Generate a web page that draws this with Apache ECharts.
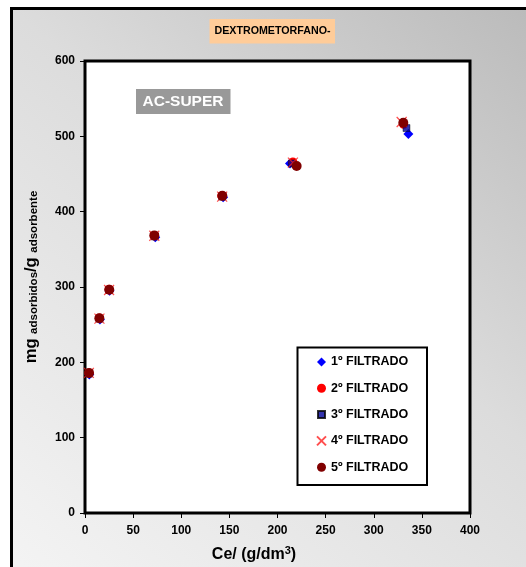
<!DOCTYPE html>
<html>
<head>
<meta charset="utf-8">
<script src="https://cdn.jsdelivr.net/npm/echarts@6/dist/echarts.min.js"></script>
<style>
  html, body { margin: 0; padding: 0; background: #fff; }
  #chart { width: 526px; height: 567px; }
</style>
</head>
<body>
<div id="chart"></div>
<script>
// Adsorption isotherm: dextromethorphan on AC-SUPER, five successive filtrates
const seriesNames = ['1º FILTRADO', '2º FILTRADO', '3º FILTRADO', '4º FILTRADO', '5º FILTRADO'];

// [Ce (g/dm3), mg adsorbed / g adsorbent]
const filtrado1 = [[4.5, 184], [15.5, 257], [25.5, 295], [73, 366], [143.5, 419], [213, 464], [336, 503]];
const filtrado2 = [[4, 186], [15, 259], [25, 297], [72, 368], [142, 421], [216, 466], [331, 516]];
const filtrado3 = [[4, 185], [15, 258], [25, 296], [72.5, 367], [142.5, 420], [215, 464], [334, 511]];
const filtrado4 = [[4, 186], [15, 258], [25, 296], [72, 368], [142.5, 420], [216, 465], [329, 519]];
const filtrado5 = [[4.2, 186], [14.9, 258.5], [25.2, 296.4], [72, 368.5], [142.7, 421], [219.9, 460.6], [330.7, 518]];

const xMin = 0, xMax = 400, xStep = 50;
const yMin = 0, yMax = 600, yStep = 100;

const titleText = 'DEXTROMETORFANO-';
const sampleText = 'AC-SUPER';

const FONT = 'Arial, "Liberation Sans", Helvetica, sans-serif';
const crossPath = 'path://M0,0L10,10M10,0L0,10';
// small square for the legend, padded by bare move-to points
const smallSquare = 'path://M-1,-1M0,0h7v7h-7zM8,8';

const chart = echarts.init(document.getElementById('chart'), null, { renderer: 'canvas' });

const bgGradient = new echarts.graphic.LinearGradient(530, 0, 40, 580, [
  { offset: 0, color: '#bababa' },
  { offset: 0.45, color: '#dcdcdc' },
  { offset: 1, color: '#f3f3f3' }
], true);

function scatter(name, data, symbol, size, color, extra) {
  return Object.assign({
    name: name,
    type: 'scatter',
    data: data,
    symbol: symbol,
    symbolSize: size,
    itemStyle: { color: color, opacity: 1 },
    emphasis: { disabled: true },
    animation: false
  }, extra || {});
}

const option = {
  animation: false,
  textStyle: { fontFamily: FONT },
  grid: {
    left: 85, top: 61, right: 56, bottom: 54,
    show: true,
    backgroundColor: '#ffffff',
    borderColor: '#000000',
    borderWidth: 3,
    z: 1
  },
  xAxis: {
    type: 'value',
    min: xMin, max: xMax, interval: xStep,
    axisLine: { show: false },
    axisTick: { show: true, length: 5, lineStyle: { color: '#000', width: 1 } },
    splitLine: { show: false },
    axisLabel: { color: '#000', fontWeight: 'bold', fontSize: 12, margin: 12, fontFamily: FONT }
  },
  yAxis: {
    type: 'value',
    min: yMin, max: yMax, interval: yStep,
    axisLine: { show: false },
    axisTick: { show: true, length: 5, lineStyle: { color: '#000', width: 1 } },
    splitLine: { show: false },
    axisLabel: { color: '#000', fontWeight: 'bold', fontSize: 12, margin: 10, fontFamily: FONT }
  },
  legend: {
    orient: 'vertical',
    left: 316,
    top: 355,
    padding: 0,
    z: 100,
    itemWidth: 9,
    itemHeight: 9,
    itemGap: 12.3,
    selectedMode: false,
    data: [
      { name: seriesNames[0] },
      { name: seriesNames[1] },
      { name: seriesNames[2], icon: smallSquare },
      { name: seriesNames[3] },
      { name: seriesNames[4] }
    ],
    textStyle: { color: '#000', fontWeight: 'bold', fontSize: 12.5, lineHeight: 14, fontFamily: FONT }
  },
  graphic: [
    {
      type: 'rect', z: -100, silent: true,
      shape: { x: 11.5, y: 8.5, width: 620, height: 620 },
      style: { fill: bgGradient, stroke: '#000', lineWidth: 3 }
    },
    {
      type: 'rect', z: 50, silent: true,
      shape: { x: 209.5, y: 19, width: 125.5, height: 24.5 },
      style: { fill: '#ffcc99' }
    },
    {
      type: 'text', z: 51, silent: true,
      x: 272.5, y: 31.5,
      style: { text: titleText, fill: '#000', font: 'bold 10.7px ' + FONT, align: 'center', verticalAlign: 'middle' }
    },
    {
      type: 'rect', z: 50, silent: true,
      shape: { x: 136, y: 89, width: 94.5, height: 25 },
      style: { fill: '#999999' }
    },
    {
      type: 'text', z: 51, silent: true,
      x: 183, y: 102,
      style: { text: sampleText, fill: '#ffffff', font: 'bold 15.5px ' + FONT, align: 'center', verticalAlign: 'middle' }
    },
    {
      type: 'rect', z: 3, silent: true,
      shape: { x: 297.5, y: 347.5, width: 129.5, height: 137.5 },
      style: { fill: '#ffffff', stroke: '#000', lineWidth: 2 }
    },
    {
      type: 'text', z: 51, silent: true,
      x: 254, y: 554,
      style: {
        text: '{b|Ce/ (g/dm}{s|3}{b|)}',
        align: 'center', verticalAlign: 'middle',
        rich: {
          b: { font: 'bold 16px ' + FONT, fill: '#000', verticalAlign: 'bottom' },
          s: { font: 'bold 11px ' + FONT, fill: '#000', verticalAlign: 'bottom', padding: [0, 0, 7, 0] }
        }
      }
    },
    {
      type: 'text', z: 51, silent: true,
      x: 31, y: 277,
      rotation: Math.PI / 2,
      style: {
        text: '{b|mg }{s|adsorbidos}{b|/g }{s|adsorbente}',
        align: 'center', verticalAlign: 'middle',
        rich: {
          b: { font: 'bold 16.5px ' + FONT, fill: '#000', verticalAlign: 'bottom' },
          s: { font: 'bold 11.5px ' + FONT, fill: '#000', verticalAlign: 'bottom' }
        }
      }
    }
  ],
  series: [
    scatter(seriesNames[0], filtrado1, 'diamond', 10, '#0000ff'),
    scatter(seriesNames[1], filtrado2, 'circle', 9, '#ff0000'),
    scatter(seriesNames[2], filtrado3, 'rect', 7, '#000099', { itemStyle: { color: '#000099', borderColor: '#000', borderWidth: 0.5 } }),
    scatter(seriesNames[3], filtrado4, crossPath, 10, '#ff2020', { itemStyle: { color: '#ff2020', borderColor: '#ff2020', borderWidth: 1.2 } }),
    scatter(seriesNames[4], filtrado5, 'circle', 10, '#800000')
  ]
};

chart.setOption(option);
</script>
</body>
</html>
